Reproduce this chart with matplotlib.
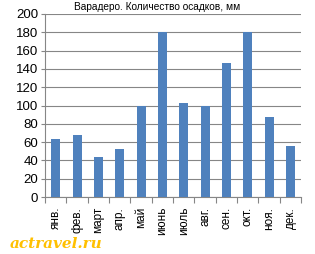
import matplotlib
matplotlib.use('Agg')
import matplotlib.pyplot as plt
import numpy as np

# Data
months = ['янв.', 'фев.', 'март', 'апр.', 'май', 'июнь', 'июль',
          'авг.', 'сен.', 'окт.', 'ноя.', 'дек.']
rain = [64, 68, 44, 52, 100, 180, 103, 100, 146, 180, 87, 56]
yticks = [0, 20, 40, 60, 80, 100, 120, 140, 160, 180, 200]

plt.rcParams['font.family'] = ['Liberation Sans', 'DejaVu Sans']

fig = plt.figure(figsize=(3.15, 2.54), dpi=100)
ax = fig.add_axes([0.143, 0.224, 0.813, 0.721])

x = np.arange(len(months))
ax.bar(x, rain, width=0.42, color='#4F81BD', zorder=3)

ax.set_xlim(-0.5, len(months) - 0.5)
ax.set_ylim(0, 200)
ax.set_yticks(yticks)
ax.tick_params(axis='y', labelsize=9.5, length=3, color='#868686', pad=2)
ax.yaxis.grid(True, color='#868686', linewidth=0.8, zorder=0)

# category labels between tick marks
ax.set_xticks(np.arange(len(months) + 1) - 0.5)
ax.set_xticklabels([])
ax.tick_params(axis='x', length=4, color='#868686')
ax.set_xticks(x, minor=True)
ax.set_xticklabels(months, minor=True, rotation=90, fontsize=8.5)
ax.tick_params(axis='x', which='minor', length=0, pad=7)

for s in ['top', 'right']:
    ax.spines[s].set_visible(False)
ax.spines['left'].set_color('#868686')
ax.spines['bottom'].set_color('#868686')

fig.text(0.5, 0.972, 'Варадеро. Количество осадков, мм', ha='center', va='center',
         fontsize=7.3)
fig.text(0.03, 0.04, 'actravel.ru', fontsize=11, color='#FFC000', style='italic',
         weight='bold', family='DejaVu Serif', ha='left', va='center')

fig.savefig('out.png', dpi=100)
